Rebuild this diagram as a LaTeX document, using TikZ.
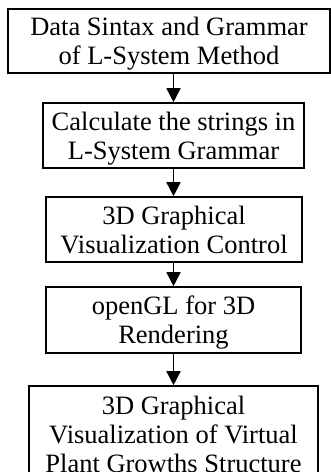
\documentclass[tikz,border=0pt]{standalone}
\usepackage{fontspec}
\setmainfont{Liberation Serif}
\usetikzlibrary{arrows.meta}
\tikzset{
  box/.style={draw, line width=1.6pt, inner sep=0pt, align=center, text depth=0pt,
    font=\fontsize{26.5}{29}\selectfont},
  arr/.style={line width=1.6pt, -{Triangle[width=14pt,length=14pt]}}
}
\begin{document}
\begin{tikzpicture}[x=1pt,y=1pt]
\useasboundingbox (0,0) rectangle (331,-472);
\clip (0,0) rectangle (331,-472);
\node[box, minimum width=322pt, minimum height=64pt] (b1) at (169,-41)
  {Data Sintax and Grammar\\of L-System Method};
\node[box, minimum width=261pt, minimum height=65pt] (b2) at (173.5,-135.5)
  {Calculate the strings in\\L-System Grammar};
\node[box, minimum width=256pt, minimum height=65pt] (b3) at (174,-229.5)
  {3D Graphical\\Visualization Control};
\node[box, minimum width=255pt, minimum height=66pt] (b4) at (173.5,-320)
  {openGL for 3D\\Rendering};
\node[box, minimum width=289pt, minimum height=96pt] (b5) at (173.5,-434)
  {3D Graphical\\Visualization of Virtual\\Plant Growths Structure};
\draw[arr] (b1.south -| b2.north) -- (b2.north);
\draw[arr] (b2.south) -- (b3.north -| b2.south);
\draw[arr] (b3.south -| b2.south) -- (b4.north -| b2.south);
\draw[arr] (b4.south -| b2.south) -- (b5.north -| b2.south);
\end{tikzpicture}
\end{document}
